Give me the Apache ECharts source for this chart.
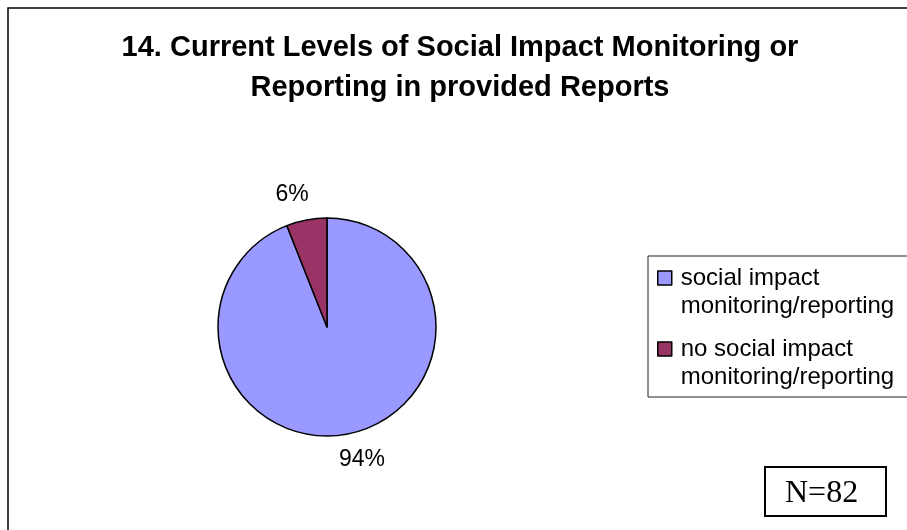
<!DOCTYPE html>
<html>
<head>
<meta charset="utf-8">
<script src="https://cdn.jsdelivr.net/npm/echarts@6/dist/echarts.min.js"></script>
<style>
html,body{margin:0;padding:0;background:#fff;}
#chart{width:907px;height:530px;}
</style>
</head>
<body>
<div id="chart"></div>
<script>
const titleText = '14. Current Levels of Social Impact Monitoring or\nReporting in provided Reports';
const categories = ['social impact\nmonitoring/reporting', 'no social impact\nmonitoring/reporting'];
const percentValues = [94, 6];
const sliceColors = ['#9999FF', '#993366'];
const sampleNote = 'N=82';

const chart = echarts.init(document.getElementById('chart'), null, {renderer: 'canvas'});

const pieData = categories.map((name, i) => ({
  name: name,
  value: percentValues[i],
  itemStyle: {color: sliceColors[i]}
}));

const option = {
  backgroundColor: '#ffffff',
  animation: false,
  title: [{
    text: titleText,
    left: 455,
    top: 23,
    textAlign: 'center',
    textStyle: {
      fontFamily: 'Liberation Sans, Arial, sans-serif',
      fontWeight: 'bold',
      fontSize: 29,
      lineHeight: 40,
      color: '#000'
    }
  }, {
    text: sampleNote,
    left: 765,
    top: 467,
    padding: [10, 28, 5, 20],
    borderColor: '#000',
    borderWidth: 2,
    textStyle: {
      fontFamily: 'Liberation Serif, Times New Roman, serif',
      fontWeight: 'normal',
      fontSize: 32,
      lineHeight: 34,
      color: '#000'
    }
  }],
  legend: {
    orient: 'vertical',
    left: 648,
    top: 256,
    padding: [8, 40, 6, 9],
    itemGap: 15,
    itemWidth: 18,
    itemHeight: 42,
    icon: 'path://M0,0h14v14h-14zM18,42',
    borderColor: '#222',
    borderWidth: 1,
    itemStyle: {borderColor: '#000', borderWidth: 1.5},
    textStyle: {
      fontFamily: 'Liberation Sans, Arial, sans-serif',
      fontSize: 24,
      lineHeight: 28,
      color: '#000'
    },
    data: categories
  },
  graphic: [{
    type: 'rect',
    silent: true,
    shape: {x: 8, y: 8, width: 920, height: 540},
    style: {fill: 'none', stroke: '#000', lineWidth: 1.5}
  }],
  series: [{
    type: 'pie',
    center: [327, 327],
    radius: 109,
    startAngle: 90,
    clockwise: true,
    silent: true,
    label: {show: false},
    labelLine: {show: false},
    itemStyle: {borderColor: '#000', borderWidth: 1.5},
    data: pieData
  }, {
    type: 'pie',
    center: [327, 327],
    radius: [130, 138],
    startAngle: 94,
    clockwise: true,
    silent: true,
    legendHoverLink: false,
    itemStyle: {color: 'rgba(0,0,0,0)', borderWidth: 0},
    label: {
      show: true,
      position: 'inside',
      formatter: '{c}%',
      fontFamily: 'Liberation Sans, Arial, sans-serif',
      fontSize: 23,
      color: '#000'
    },
    labelLine: {show: false},
    data: categories.map((name, i) => ({name: name + ' ', value: percentValues[i]}))
  }]
};

chart.setOption(option);
</script>
</body>
</html>
